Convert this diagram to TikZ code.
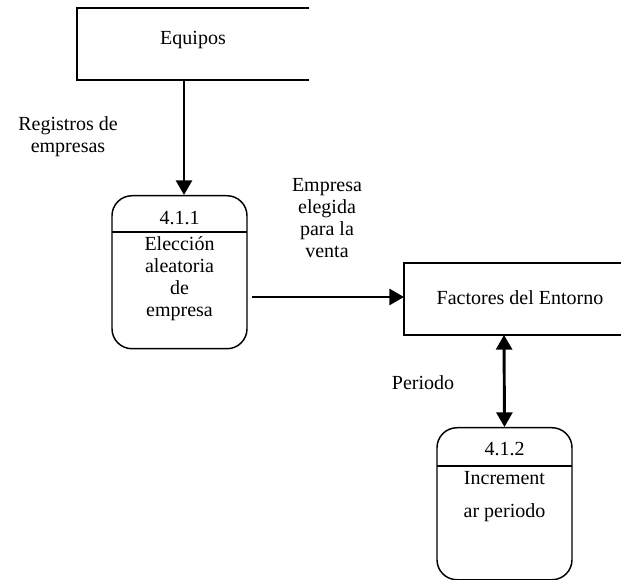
\documentclass[tikz,border=0pt]{standalone}
\usepackage{fontspec}
\setmainfont{Liberation Serif}
\usetikzlibrary{arrows.meta}
\begin{document}
\begin{tikzpicture}[x=0.75pt,y=-0.75pt,
  boxline/.style={line width=1.1pt},
  proc/.style={draw,line width=1.1pt,rounded corners=15pt,minimum width=135*0.75pt,inner sep=0pt},
  flow/.style={line width=2.2pt,-{Triangle[length=11pt,width=12pt]}},
  biflow/.style={line width=2.2pt,{Triangle[length=11pt,width=12pt]}-{Triangle[length=11pt,width=12pt]}},
  lbl/.style={font=\fontsize{15}{16.5}\selectfont,align=center,inner sep=0pt},
  every node/.style={font=\fontsize{15}{17}\selectfont}]
\useasboundingbox (0,0) rectangle (621,580);
% Equipos store
\draw[boxline] (309,8) -- (77,8) -- (77,80) -- (309,80);
\node (equipos) at (193,40) {Equipos};
\coordinate (eqout) at (184,80);
% Factores store
\draw[boxline] (621,263) -- (404,263) -- (404,335) -- (621,335);
\node (factores) at (520,298) {Factores del Entorno};
\coordinate (facin) at (404,297);
\coordinate (facbot) at (504,335);
% Process 4.1.1
\node[proc,minimum height=153*0.75pt,anchor=north] (p1) at (179.5,195) {};
\draw[boxline] (112,232) -- (247,232);
\node (p1id) at (179.5,218) {4.1.1};
\node[lbl] (p1txt) at (179.5,279) {Elección\\aleatoria\\de\\empresa};
\coordinate (p1out) at (252,297);
% Process 4.1.2
\node[proc,minimum height=152*0.75pt,anchor=north] (p2) at (504.5,427) {};
\draw[boxline] (437,466) -- (572,466);
\node (p2id) at (504.5,449) {4.1.2};
\node[lbl,font=\fontsize{15}{24.7}\selectfont] (p2txt) at (504.5,497) {Increment\\ar periodo};
% Flows
\draw[flow] (eqout) -- (p1.north -| eqout);
\draw[flow] (p1out) -- (facin);
\draw[biflow] (facbot) -- (p2.north);
% Labels
\node[lbl] (l1) at (68,137) {Registros de\\empresas};
\node[lbl] (l2) at (327,218) {Empresa\\elegida\\para la\\venta};
\node[lbl] (l3) at (423,383) {Periodo};
\end{tikzpicture}
\end{document}
